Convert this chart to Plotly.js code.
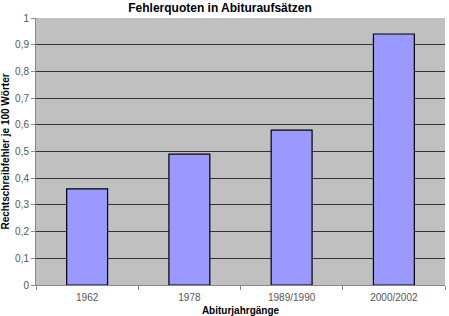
<!DOCTYPE html>
<html>
<head>
<meta charset="utf-8">
<script src="https://cdn.plot.ly/plotly-3.0.1.min.js"></script>
<style>html,body{margin:0;padding:0;background:#fff;}#chart{width:449px;height:316px;}</style>
</head>
<body>
<div id="chart"></div>
<script>
const categories = ["1962", "1978", "1989/1990", "2000/2002"];
const values = [0.36, 0.49, 0.58, 0.94];
const yTicks = [0, 0.1, 0.2, 0.3, 0.4, 0.5, 0.6, 0.7, 0.8, 0.9, 1];
const yTickLabels = ["0", "0,1", "0,2", "0,3", "0,4", "0,5", "0,6", "0,7", "0,8", "0,9", "1"];

const trace = {
  type: "bar",
  x: categories,
  y: values,
  marker: { color: "#9999ff", line: { color: "#000000", width: 1.2 } },
  hoverinfo: "none"
};

const layout = {
  width: 449,
  height: 316,
  margin: { l: 36, r: 4, t: 18, b: 31 },
  paper_bgcolor: "#ffffff",
  plot_bgcolor: "#c0c0c0",
  font: { family: "Liberation Sans, Arial, sans-serif", color: "#444" },
  bargap: 0.6,
  showlegend: false,
  title: {
    text: "Fehlerquoten in Abituraufsätzen",
    font: { size: 12, color: "#000", weight: "bold" },
    x: 0.49, xref: "container", xanchor: "center",
    y: 0.975, yref: "container", yanchor: "middle"
  },
  xaxis: {
    type: "category",
    tickson: "boundaries",
    ticks: "outside",
    ticklen: 4,
    tickcolor: "#888",
    ticklabelstandoff: 3,
    tickfont: { size: 10, color: "#555" },
    showgrid: false,
    showline: true,
    linecolor: "#888",
    linewidth: 1,
    title: { text: "Abiturjahrgänge", font: { size: 10, color: "#000", weight: "bold" }, standoff: 4 }
  },
  yaxis: {
    range: [0, 1],
    tickvals: yTicks,
    ticktext: yTickLabels,
    ticks: "outside",
    ticklen: 4,
    tickcolor: "#888",
    tickfont: { size: 10, color: "#555" },
    showgrid: true,
    gridcolor: "#333",
    gridwidth: 1,
    showline: true,
    linecolor: "#888",
    zeroline: false,
    title: { text: "Rechtschreibfehler je 100 Wörter", font: { size: 10, color: "#000", weight: "bold" }, standoff: 6 }
  }
};

Plotly.newPlot("chart", [trace], layout, { staticPlot: true, displayModeBar: false });
</script>
</body>
</html>
